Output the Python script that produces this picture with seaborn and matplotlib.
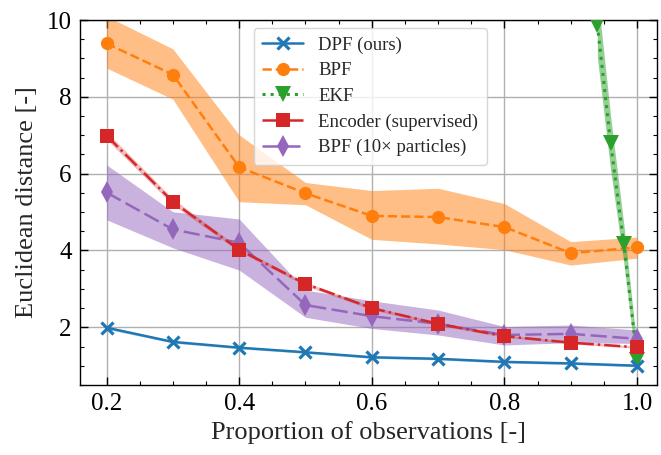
import numpy as np
import matplotlib
matplotlib.use("Agg")
import matplotlib.pyplot as plt
from matplotlib.ticker import MultipleLocator
import seaborn as sns

# ── Data ──────────────────────────────────────────
x = [0.2, 0.3, 0.4, 0.5, 0.6, 0.7, 0.8, 0.9, 1.0]

dpf = [1.99, 1.62, 1.47, 1.35, 1.22, 1.18, 1.10, 1.06, 1.00]
dpf_err = [0.04, 0.03, 0.03, 0.03, 0.03, 0.03, 0.03, 0.03, 0.03]

bpf = [9.39, 8.58, 6.17, 5.49, 4.90, 4.87, 4.61, 3.93, 4.08]
bpf_lo = [8.75, 7.94, 5.27, 5.19, 4.29, 4.17, 4.02, 3.62, 3.80]
bpf_hi = [10.1, 9.25, 7.01, 5.77, 5.56, 5.62, 5.22, 4.23, 4.35]

ekf_x = [0.94, 0.96, 0.98, 1.0]
ekf = [9.88, 6.80, 4.17, 1.15]
ekf_err = [0.85, 0.7, 0.5, 0.3]

enc = [6.99, 5.27, 4.02, 3.13, 2.50, 2.09, 1.77, 1.60, 1.48]
enc_err = [0.10, 0.08, 0.05, 0.05, 0.04, 0.04, 0.03, 0.03, 0.03]

bpf10 = [5.51, 4.55, 4.20, 2.58, 2.29, 2.09, 1.80, 1.83, 1.70]
bpf10_lo = [4.80, 4.07, 3.49, 2.26, 1.97, 1.80, 1.54, 1.60, 1.58]
bpf10_hi = [6.23, 5.01, 4.82, 2.97, 2.69, 2.45, 2.02, 2.06, 1.93]

# ── Style ─────────────────────────────────────────
sns.set_style("ticks")
plt.rcParams["font.family"] = ["Liberation Serif", "DejaVu Serif"]
plt.rcParams["mathtext.fontset"] = "dejavuserif"

fig, ax = plt.subplots(figsize=(6.61, 4.55), dpi=100)
fig.subplots_adjust(left=0.121, right=0.994, top=0.956, bottom=0.154)

C_BLUE, C_ORANGE, C_GREEN, C_RED, C_PURPLE = sns.color_palette("tab10")[:5]
lw = 1.8

# BPF
ax.fill_between(x, bpf_lo, bpf_hi, color=C_ORANGE, alpha=0.5, lw=0, zorder=2)
sns.lineplot(x=x, y=bpf, ax=ax, color=C_ORANGE, linestyle="--", marker="o",
             markersize=9.5, markeredgewidth=0, lw=lw, label="BPF", zorder=3)

# EKF
ekf_arr = np.array(ekf)
ekf_e = np.array(ekf_err)
ax.fill_between(ekf_x, ekf_arr - ekf_e, ekf_arr + ekf_e, color=C_GREEN, alpha=0.5, lw=0, zorder=2)
sns.lineplot(x=ekf_x, y=ekf, ax=ax, color=C_GREEN, linestyle=":", marker="v",
             markersize=11, markeredgewidth=0, lw=lw + 0.4, label="EKF", zorder=4)

# BPF (10x particles)
ax.fill_between(x, bpf10_lo, bpf10_hi, color=C_PURPLE, alpha=0.5, lw=0, zorder=2)
sns.lineplot(x=x, y=bpf10, ax=ax, color=C_PURPLE, linestyle=(0, (6.5, 2.2)), marker="d",
             markersize=11, markeredgewidth=0, lw=lw, label="BPF (10× particles)", zorder=4)

# Encoder
enc_arr = np.array(enc)
enc_e = np.array(enc_err)
ax.fill_between(x, enc_arr - enc_e, enc_arr + enc_e, color=C_RED, alpha=0.3, lw=0, zorder=2)
sns.lineplot(x=x, y=enc, ax=ax, color=C_RED, linestyle="-.", marker="s",
             markersize=9.5, markeredgewidth=0, lw=lw, label="Encoder (supervised)", zorder=5)

# DPF
dpf_arr = np.array(dpf)
dpf_e = np.array(dpf_err)
ax.fill_between(x, dpf_arr - dpf_e, dpf_arr + dpf_e, color=C_BLUE, alpha=0.3, lw=0, zorder=2)
sns.lineplot(x=x, y=dpf, ax=ax, color=C_BLUE, linestyle="-", marker="x",
             markersize=8.5, markeredgewidth=2.3, markeredgecolor=C_BLUE,
             lw=lw, label="DPF (ours)", zorder=6)

# ── Axes ──────────────────────────────────────────
ax.set_xlim(0.16, 1.03)
ax.set_ylim(0.5, 10)
ax.xaxis.set_major_locator(MultipleLocator(0.2))
ax.xaxis.set_minor_locator(MultipleLocator(0.05))
ax.yaxis.set_major_locator(MultipleLocator(2))
ax.yaxis.set_minor_locator(MultipleLocator(0.5))
ax.set_xticks([0.2, 0.4, 0.6, 0.8, 1.0])
ax.set_xticklabels(["0.2", "0.4", "0.6", "0.8", "1.0"])

ax.tick_params(which="both", direction="in", top=True, right=True, labelsize=18, colors="black")
ax.tick_params(which="major", length=6, width=1, pad=6)
ax.tick_params(which="minor", length=3, width=0.8)
for sp in ax.spines.values():
    sp.set_linewidth(1)
    sp.set_color("black")
ax.grid(True, which="major", color="#b0b0b0", lw=1, zorder=1)
ax.set_axisbelow(True)

ax.set_xlabel("Proportion of observations [-]", fontsize=19, labelpad=4)
ax.set_ylabel("Euclidean distance [-]", fontsize=19, labelpad=6)

handles, labels = ax.get_legend_handles_labels()
order = ["DPF (ours)", "BPF", "EKF", "Encoder (supervised)", "BPF (10× particles)"]
hmap = dict(zip(labels, handles))
leg = ax.legend([hmap[k] for k in order], order, loc="upper center",
                bbox_to_anchor=(0.503, 0.978), borderaxespad=0, fontsize=13.5,
                frameon=True, framealpha=0.8, edgecolor="#cccccc", fancybox=True,
                handlelength=2.2, borderpad=0.45, labelspacing=0.45)
leg.set_zorder(10)

fig.savefig("out.png", dpi=100)
